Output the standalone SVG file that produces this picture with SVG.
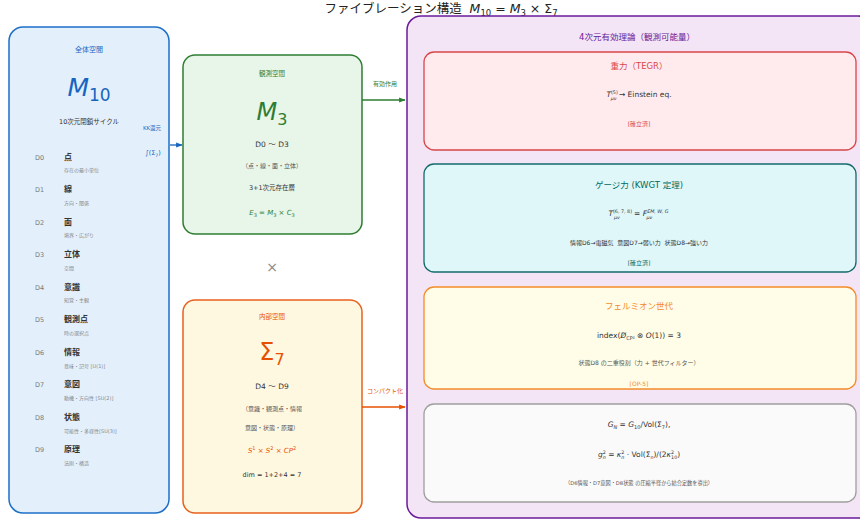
<svg xmlns="http://www.w3.org/2000/svg" width="860" height="520" viewBox="0 0 860 520">
<style>
text{font-family:"DejaVu Sans","Noto Sans CJK JP",sans-serif;text-anchor:middle;}
.m{font-style:italic;}
.dk{fill:#333333;}
.gr{fill:#555555;}
.blue{fill:#1565C0;}
.green{fill:#2E7D32;}
.orange{fill:#E65100;}
.purple{fill:#6A1B9A;}
.teal{fill:#00695C;}
.dl{font-size:6.5px;fill:#7a7a7a;text-anchor:start;}
.nm{font-size:8px;fill:#333333;text-anchor:start;font-weight:bold;}
.sb{font-size:5px;fill:#888888;text-anchor:start;}
</style>
<defs>
<marker id="ab" viewBox="0 0 10 10" refX="9" refY="5" markerWidth="5" markerHeight="5" orient="auto"><path d="M0,1 L10,5 L0,9 z" fill="#1565C0"/></marker>
<marker id="ag" viewBox="0 0 10 10" refX="9" refY="5" markerWidth="5" markerHeight="5" orient="auto"><path d="M0,1 L10,5 L0,9 z" fill="#2E7D32"/></marker>
<marker id="ao" viewBox="0 0 10 10" refX="9" refY="5" markerWidth="5" markerHeight="5" orient="auto"><path d="M0,1 L10,5 L0,9 z" fill="#E65100"/></marker>
</defs>
<rect width="860" height="520" fill="#ffffff"/>
<text x="441" y="13" font-size="12.5" fill="#222">ファイブレーション構造&#160;&#160;<tspan class="m">M</tspan><tspan font-size="8.5" dy="2.5">10</tspan><tspan dy="-2.5"> = </tspan><tspan class="m">M</tspan><tspan font-size="8.5" dy="2.5">3</tspan><tspan dy="-2.5"> × Σ</tspan><tspan font-size="8.5" dy="2.5">7</tspan></text>

<g id="whole">
<rect x="9" y="27" width="160" height="486" rx="14" fill="#E3F0FC" stroke="#1E6FC8" stroke-width="1.5"/>
<text x="89" y="52" font-size="7" class="blue">全体空間</text>
<text x="89" y="96" font-size="25" class="blue"><tspan class="m">M</tspan><tspan font-size="17" dy="5">10</tspan></text>
<text x="89" y="124" font-size="6.5" class="dk">10次元閉鎖サイクル</text>
<text x="152" y="130" font-size="5.5" class="blue">KK還元</text>
<text x="153" y="155" font-size="6.5" class="blue">∫(Σ<tspan font-size="4.5" dy="1.5">7</tspan><tspan dy="-1.5">)</tspan></text>
<text class="dl" x="35" y="160">D0</text><text class="nm" x="64" y="160">点</text><text class="sb" x="64" y="172">存在の最小単位</text>
<text class="dl" x="35" y="192">D1</text><text class="nm" x="64" y="192">線</text><text class="sb" x="64" y="205">方向・関係</text>
<text class="dl" x="35" y="225">D2</text><text class="nm" x="64" y="225">面</text><text class="sb" x="64" y="237">境界・広がり</text>
<text class="dl" x="35" y="257">D3</text><text class="nm" x="64" y="257">立体</text><text class="sb" x="64" y="270">空間</text>
<text class="dl" x="35" y="290">D4</text><text class="nm" x="64" y="290">意識</text><text class="sb" x="64" y="302">知覚・主観</text>
<text class="dl" x="35" y="322">D5</text><text class="nm" x="64" y="322">観測点</text><text class="sb" x="64" y="335">時の選択点</text>
<text class="dl" x="35" y="355">D6</text><text class="nm" x="64" y="355">情報</text><text class="sb" x="64" y="368">意味・記号&#160;[U(1)]</text>
<text class="dl" x="35" y="387">D7</text><text class="nm" x="64" y="387">意図</text><text class="sb" x="64" y="400">動機・方向性&#160;[SU(2)]</text>
<text class="dl" x="35" y="420">D8</text><text class="nm" x="64" y="420">状態</text><text class="sb" x="64" y="433">可能性・多様性[SU(3)]</text>
<text class="dl" x="35" y="452">D9</text><text class="nm" x="64" y="452">原理</text><text class="sb" x="64" y="465">法則・構造</text>
</g>

<g id="m3">
<rect x="183" y="55" width="179" height="179" rx="12" fill="#E8F5E9" stroke="#2E7D32" stroke-width="1.5"/>
<text x="272" y="76" font-size="6.5" class="green">観測空間</text>
<text x="272" y="120" font-size="24" class="green"><tspan class="m">M</tspan><tspan font-size="16" dy="5">3</tspan></text>
<text x="272" y="147" font-size="7.5" class="dk">D0 〜 D3</text>
<text x="272" y="168" font-size="6" class="gr">（点・線・面・立体）</text>
<text x="272" y="190" font-size="6.5" class="dk">3+1次元存在層</text>
<text x="272" y="215" font-size="7" class="green"><tspan class="m">E</tspan><tspan font-size="5" dy="1.5">3</tspan><tspan dy="-1.5"> = </tspan><tspan class="m">M</tspan><tspan font-size="5" dy="1.5">3</tspan><tspan dy="-1.5"> × </tspan><tspan class="m">C</tspan><tspan font-size="5" dy="1.5">3</tspan></text>
</g>

<text x="272" y="272" font-size="14" fill="#888888">×</text>

<g id="sigma7">
<rect x="183" y="300" width="179" height="213" rx="12" fill="#FFF8E1" stroke="#E8601C" stroke-width="1.5"/>
<text x="272" y="319" font-size="6.5" class="orange">内部空間</text>
<text x="272" y="360" font-size="24" class="orange">Σ<tspan font-size="16" dy="5">7</tspan></text>
<text x="272" y="389" font-size="7.5" class="dk">D4 〜 D9</text>
<text x="272" y="411" font-size="6" class="gr">（意識・観測点・情報</text>
<text x="272" y="430" font-size="6" class="gr">意図・状態・原理）</text>
<text x="272" y="453" font-size="7" class="orange"><tspan class="m">S</tspan><tspan font-size="5" dy="-3">1</tspan><tspan dy="3"> × </tspan><tspan class="m">S</tspan><tspan font-size="5" dy="-3">2</tspan><tspan dy="3"> × </tspan><tspan class="m">CP</tspan><tspan font-size="5" dy="-3">2</tspan></text>
<text x="272" y="477" font-size="6.5" class="dk">dim = 1+2+4 = 7</text>
</g>

<g id="connectors">
<line x1="170" y1="145" x2="182" y2="145" stroke="#1565C0" stroke-width="1.3" marker-end="url(#ab)"/>
<line x1="362" y1="100" x2="405" y2="100" stroke="#2E7D32" stroke-width="1.3" marker-end="url(#ag)"/>
<text x="385" y="86" font-size="6" class="green">有効作用</text>
<line x1="362" y1="407" x2="405" y2="407" stroke="#E65100" stroke-width="1.3" marker-end="url(#ao)"/>
<text x="385" y="393" font-size="6" class="orange">コンパクト化</text>
</g>

<g id="effective">
<rect x="407" y="16" width="465" height="502" rx="14" fill="#F3E5F5" stroke="#6A1B9A" stroke-width="1.5"/>
<text x="637" y="40" font-size="8.5" class="purple">4次元有効理論（観測可能量）</text>
</g>

<g id="gravity">
<rect x="424" y="52" width="432" height="98" rx="10" fill="#FFEBEE" stroke="#D9464A" stroke-width="1.3"/>
<text x="639" y="69" font-size="8.5" fill="#D9464A">重力（TEGR）</text>
<text x="639" y="97" font-size="7.5" class="dk"><tspan class="m">T</tspan><tspan font-size="4.8" dy="-3">(5)</tspan><tspan font-size="4.8" class="m" dx="-7" dy="6">μν</tspan><tspan dy="-3"> → Einstein eq.</tspan></text>
<text x="639" y="126" font-size="6" fill="#D9464A">[確立済]</text>
</g>

<g id="gauge">
<rect x="424" y="164" width="432" height="108" rx="10" fill="#E0F7FA" stroke="#136B6B" stroke-width="1.3"/>
<text x="639" y="188" font-size="8.5" class="teal">ゲージ力 (KWGT 定理)</text>
<text x="639" y="216" font-size="7.5" class="dk"><tspan class="m">T</tspan><tspan font-size="4.8" dy="-3">(6, 7, 8)</tspan><tspan font-size="4.8" class="m" dx="-18" dy="6">μν</tspan><tspan dy="-3" dx="12"> = </tspan><tspan class="m">F</tspan><tspan font-size="4.8" class="m" dy="-3">EM, W, G</tspan><tspan font-size="4.8" class="m" dx="-22" dy="6">μν</tspan><tspan dx="15" dy="-3">&#160;</tspan></text>
<text x="639" y="245" font-size="6" class="dk">情報D6→電磁気&#160;&#160;意図D7→弱い力&#160;&#160;状態D8→強い力</text>
<text x="639" y="265" font-size="6" class="teal">[確立済]</text>
</g>

<g id="fermion">
<rect x="424" y="287" width="432" height="102" rx="10" fill="#FFFDE7" stroke="#F58A2A" stroke-width="1.3"/>
<text x="639" y="309" font-size="8.5" fill="#F58A2A">フェルミオン世代</text>
<text x="639" y="338" font-size="7.5" class="dk">index(<tspan class="m">D̸</tspan><tspan font-size="5" dy="1.5">CP²</tspan><tspan dy="-1.5"> ⊗ </tspan><tspan class="m">O</tspan>(1)) = 3</text>
<text x="639" y="365" font-size="6" class="gr">状態D8 の二重役割（力 + 世代フィルター）</text>
<text x="639" y="386" font-size="6" fill="#F58A2A">[OP-5]</text>
</g>

<g id="coupling">
<rect x="424" y="404" width="432" height="98" rx="10" fill="#FAFAFA" stroke="#9E9E9E" stroke-width="1.3"/>
<text x="639" y="427" font-size="7.5" class="dk"><tspan class="m">G</tspan><tspan font-size="5" class="m" dy="1.5">N</tspan><tspan dy="-1.5"> = </tspan><tspan class="m">G</tspan><tspan font-size="5" dy="1.5">10</tspan><tspan dy="-1.5">/Vol(Σ</tspan><tspan font-size="5" dy="1.5">7</tspan><tspan dy="-1.5">),</tspan></text>
<text x="639" y="457" font-size="7.5" class="dk"><tspan class="m">g</tspan><tspan font-size="4.8" dy="-3">2</tspan><tspan font-size="4.8" class="m" dx="-3" dy="5">n</tspan><tspan dy="-2"> = </tspan><tspan class="m">κ</tspan><tspan font-size="4.8" dy="-3">2</tspan><tspan font-size="4.8" class="m" dx="-3" dy="5">n</tspan><tspan dy="-2"> · Vol(Σ</tspan><tspan font-size="4.8" class="m" dy="1.5">n</tspan><tspan dy="-1.5">)/(2</tspan><tspan class="m">κ</tspan><tspan font-size="4.8" dy="-3">2</tspan><tspan font-size="4.8" dx="-3" dy="5">10</tspan><tspan dy="-2">)</tspan></text>
<text x="639" y="485" font-size="5.2" class="gr">（D6情報・D7意図・D8状態 の圧縮半径から結合定数を導出）</text>
</g>
</svg>
